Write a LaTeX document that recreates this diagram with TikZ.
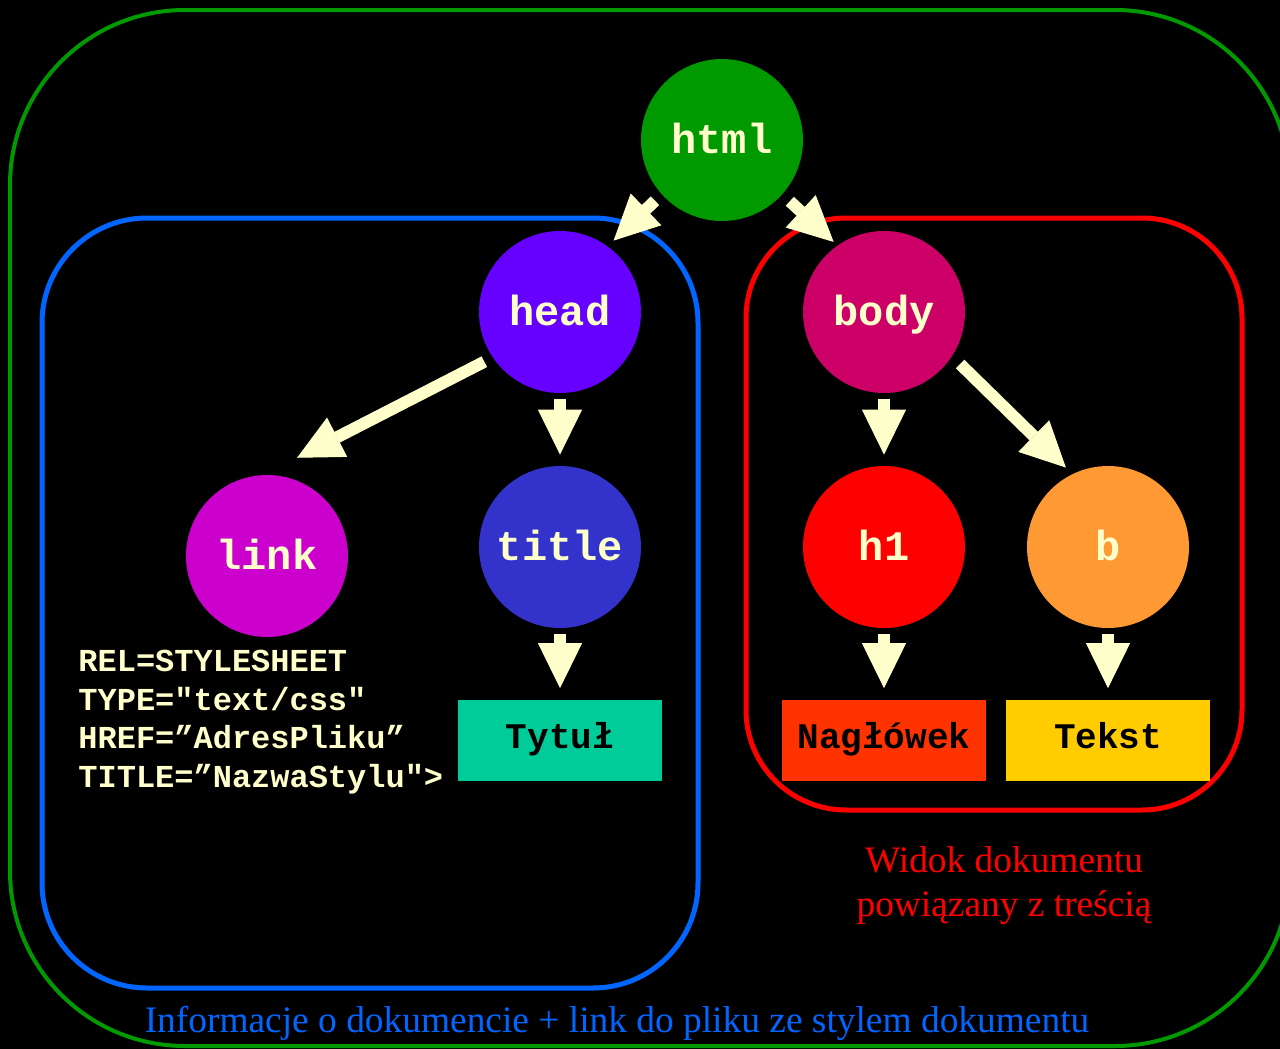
\documentclass[tikz,border=0pt]{standalone}
\usepackage{fontspec}
\setmainfont{Liberation Serif}
\setmonofont{Liberation Mono}
\usetikzlibrary{arrows.meta}

\definecolor{cream}{HTML}{FFFFCC}
\definecolor{htmlgreen}{HTML}{009900}
\definecolor{headviolet}{HTML}{6600FF}
\definecolor{bodyrose}{HTML}{CC0066}
\definecolor{linkmagenta}{HTML}{CC00CC}
\definecolor{titleblue}{HTML}{3333CC}
\definecolor{hred}{HTML}{FF0000}
\definecolor{borange}{HTML}{FF9933}
\definecolor{tytulgreen}{HTML}{00CC99}
\definecolor{naglowekred}{HTML}{FF3300}
\definecolor{tekstyellow}{HTML}{FFCC00}
\definecolor{frameblue}{HTML}{0066FF}
\definecolor{framered}{HTML}{FF0000}
\definecolor{framegreen}{HTML}{009900}

\begin{document}
\begin{tikzpicture}[x=0.5pt,y=0.5pt,
    tag/.style={shape=circle,minimum size=81pt,inner sep=0pt,text=cream,
        text height=13pt,text depth=0pt,
        font=\ttfamily\bfseries\fontsize{21}{25}\selectfont},
    leaf/.style={shape=rectangle,minimum width=102pt,minimum height=40.5pt,inner sep=0pt,
        text=black,text height=11pt,text depth=3pt,
        font=\ttfamily\bfseries\fontsize{18}{22}\selectfont},
    listing/.style={inner sep=0pt,align=left,text=cream,
        font=\ttfamily\bfseries\fontsize{16}{19.25}\selectfont},
    note/.style={inner sep=0pt,align=center,font=\fontsize{18.7}{22}\selectfont},
    pointer/.style={draw=cream,line width=6pt,
        -{Triangle[width=22pt,length=22.5pt,line width=0.5pt,fill=cream]},
        shorten <=3pt,shorten >=5.5pt},
    frame/.style={line width=2.5pt}]

    \useasboundingbox (0,0) rectangle (1280,-1049);
    \fill[black] (0,0) rectangle (1280,-1049);

    % frames
    \draw[frame,draw=framegreen,line width=2pt,rounded corners=87.5pt] (10,-10) rectangle (1290,-1046);
    \draw[frame,draw=frameblue,rounded corners=52.5pt] (42,-218) rectangle (698,-988);
    \draw[frame,draw=framered,rounded corners=50pt] (746,-218) rectangle (1242,-810);

    % tree
    \node[tag,fill=htmlgreen] (html) at (722,-140) {html};
    \node[tag,fill=headviolet] (head) at (560,-312) {head};
    \node[tag,fill=bodyrose] (body) at (884,-312) {body};
    \node[tag,fill=linkmagenta] (link) at (267,-556) {link};
    \node[tag,fill=titleblue] (title) at (560,-547) {title};
    \node[tag,fill=hred] (h1) at (884,-547) {h1};
    \node[tag,fill=borange] (b) at (1108,-547) {b};

    \node[leaf,fill=tytulgreen] (tytul) at (560,-740) {Tytuł};
    \node[leaf,fill=naglowekred] (naglowek) at (884,-740) {Nagłówek};
    \node[leaf,fill=tekstyellow] (tekst) at (1108,-740) {Tekst};

    \node[listing,anchor=base west] (attrs) at (78,-787)
        {REL=STYLESHEET\\TYPE="text/css"\\HREF=”AdresPliku”\\TITLE=”NazwaStylu">};

    \node[note,text=framered] (widok) at (1004,-886) {Widok dokumentu\\powiązany z treścią};
    \node[note,text=frameblue,anchor=base] (info) at (617,-1032)
        {Informacje o dokumencie + link do pliku ze stylem dokumentu};

    % arrows
    \path (html.222) edge[pointer,shorten <=4.5pt,shorten >=4pt] (head.54);
    \path (html.318) edge[pointer,shorten <=5pt,shorten >=2.5pt] (body.125);
    \path (head.214) edge[pointer,shorten <=4.6pt,shorten >=18.5pt] (link.92);
    \path (head) edge[pointer] (title);
    \path (body) edge[pointer] (h1);
    \path (body.327) edge[pointer,shorten <=5.5pt,shorten >=4.5pt] (b.116);
    \path (title) edge[pointer] (tytul);
    \path (h1) edge[pointer] (naglowek);
    \path (b) edge[pointer] (tekst);

\end{tikzpicture}
\end{document}
